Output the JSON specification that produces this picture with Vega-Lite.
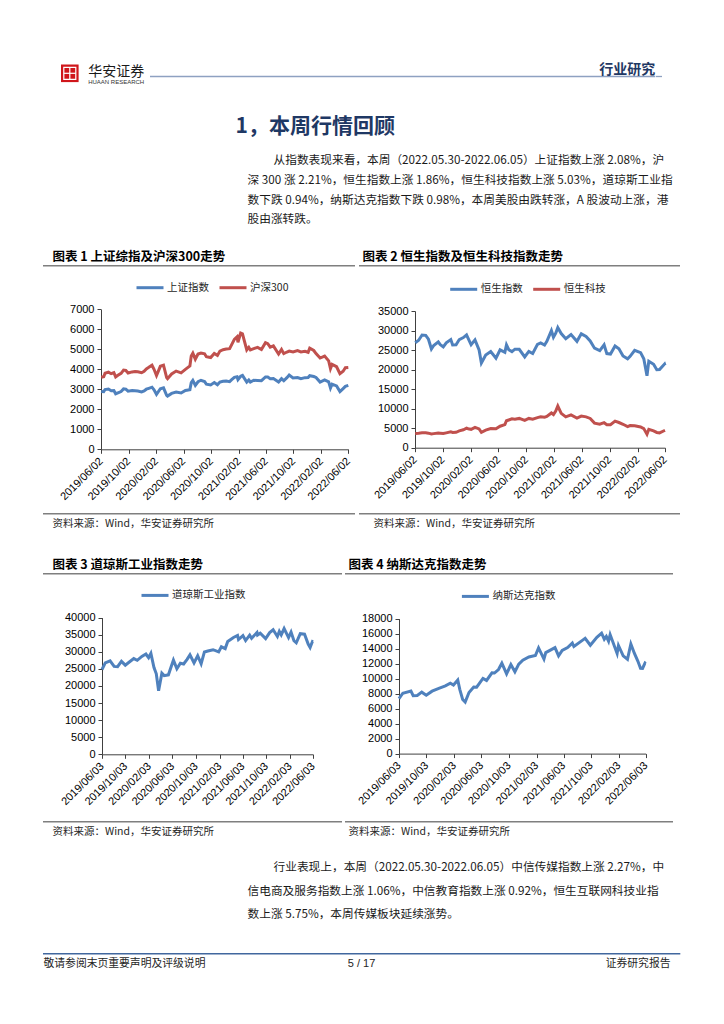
{
"$schema": "https://vega.github.io/schema/vega-lite/v6.json",
"background": "#ffffff",
"padding": 0,
"spacing": 0,
"resolve": {"scale": {"color": "independent"}, "legend": {"color": "independent"}},
"config": {
  "view": {"stroke": null},
  "font": "Noto Sans CJK SC",
  "axis": {"labelFont": "Liberation Sans", "labelFontSize": 11, "labelColor": "#000000", "domainColor": "#404040", "domainWidth": 1, "tickColor": "#404040", "tickSize": 4, "grid": false, "labelPadding": 3},
  "axisX": {"labelAngle": -45, "labelAlign": "right", "labelBaseline": "middle", "labelOverlap": false, "labelFlush": false, "labelBound": false, "labelPadding": 6},
  "legend": {"orient": "none", "direction": "horizontal", "symbolType": "stroke", "symbolSize": 729, "symbolStrokeWidth": 3, "labelFont": "Noto Sans CJK SC", "labelFontSize": 10.5, "labelColor": "#262626", "labelOffset": 2, "columnPadding": 4, "padding": 0}
},
"datasets": {
"c1": [
{"d":"2019/06/03","上证指数":2890,"沪深300":3600},{"d":"2019/06/14","上证指数":2882,"沪深300":3630},{"d":"2019/06/20","上证指数":2987,"沪深300":3800},{"d":"2019/07/05","上证指数":3011,"沪深300":3860},{"d":"2019/07/17","上证指数":2931,"沪深300":3780},{"d":"2019/07/29","上证指数":2941,"沪深300":3830},{"d":"2019/08/06","上证指数":2777,"沪深300":3620},{"d":"2019/08/16","上证指数":2823,"沪深300":3700},{"d":"2019/08/30","上证指数":2886,"沪深300":3800},{"d":"2019/09/10","上证指数":3021,"沪深300":3960},{"d":"2019/09/20","上证指数":3006,"沪深300":3940},{"d":"2019/09/30","上证指数":2905,"沪深300":3815},{"d":"2019/10/18","上证指数":2938,"沪深300":3870},{"d":"2019/10/31","上证指数":2929,"沪深300":3886},{"d":"2019/11/12","上证指数":2914,"沪深300":3880},{"d":"2019/11/29","上证指数":2871,"沪深300":3828},{"d":"2019/12/10","上证指数":2917,"沪深300":3900},{"d":"2019/12/20","上证指数":3005,"沪深300":4018},{"d":"2019/12/31","上证指数":3050,"沪深300":4097},{"d":"2020/01/14","上证指数":3106,"沪深300":4204},{"d":"2020/01/23","上证指数":2976,"沪深300":4003},{"d":"2020/02/03","上证指数":2746,"沪深300":3688},{"d":"2020/02/20","上证指数":3030,"沪深300":4150},{"d":"2020/03/05","上证指数":3071,"沪深300":4206},{"d":"2020/03/19","上证指数":2702,"沪深300":3589},{"d":"2020/03/23","上证指数":2660,"沪深300":3530},{"d":"2020/04/10","上证指数":2796,"沪深300":3766},{"d":"2020/04/30","上证指数":2860,"沪深300":3912},{"d":"2020/05/22","上证指数":2813,"沪深300":3824},{"d":"2020/06/10","上证指数":2943,"沪深300":3996},{"d":"2020/06/30","上证指数":2985,"沪深300":4163},{"d":"2020/07/06","上证指数":3332,"沪深300":4670},{"d":"2020/07/13","上证指数":3443,"沪深300":4808},{"d":"2020/07/24","上证指数":3197,"沪深300":4506},{"d":"2020/08/05","上证指数":3377,"沪深300":4762},{"d":"2020/08/18","上证指数":3451,"沪深300":4816},{"d":"2020/09/03","上证指数":3384,"沪深300":4775},{"d":"2020/09/11","上证指数":3260,"沪深300":4627},{"d":"2020/09/30","上证指数":3218,"沪深300":4587},{"d":"2020/10/16","上证指数":3336,"沪深300":4791},{"d":"2020/10/30","上证指数":3225,"沪深300":4695},{"d":"2020/11/10","上证指数":3360,"沪深300":4910},{"d":"2020/11/24","上证指数":3402,"沪深300":4980},{"d":"2020/12/08","上证指数":3410,"沪深300":5010},{"d":"2020/12/23","上证指数":3383,"沪深300":5033},{"d":"2020/12/31","上证指数":3473,"沪深300":5211},{"d":"2021/01/13","上证指数":3598,"沪深300":5498},{"d":"2021/01/25","上证指数":3625,"沪深300":5625},{"d":"2021/01/29","上证指数":3483,"沪深300":5351},{"d":"2021/02/10","上证指数":3655,"沪深300":5807},{"d":"2021/02/18","上证指数":3696,"沪深300":5768},{"d":"2021/03/09","上证指数":3360,"沪深300":4971},{"d":"2021/03/18","上证指数":3463,"沪深300":5101},{"d":"2021/03/25","上证指数":3363,"沪深300":4970},{"d":"2021/04/09","上证指数":3451,"沪深300":5035},{"d":"2021/04/26","上证指数":3441,"沪深300":5097},{"d":"2021/05/13","上证指数":3429,"沪深300":4990},{"d":"2021/05/31","上证指数":3615,"沪深300":5331},{"d":"2021/06/10","上证指数":3610,"沪深300":5284},{"d":"2021/06/21","上证指数":3529,"沪深300":5108},{"d":"2021/07/05","上证指数":3534,"沪深300":5171},{"d":"2021/07/28","上证指数":3361,"沪深300":4762},{"d":"2021/08/10","上证指数":3529,"沪深300":4990},{"d":"2021/08/20","上证指数":3428,"沪深300":4785},{"d":"2021/09/03","上证指数":3581,"沪深300":4864},{"d":"2021/09/13","上证指数":3715,"沪深300":4909},{"d":"2021/09/30","上证指数":3568,"沪深300":4866},{"d":"2021/10/20","上证指数":3588,"沪深300":4935},{"d":"2021/11/04","上证指数":3526,"沪深300":4869},{"d":"2021/11/22","上证指数":3582,"沪深300":4900},{"d":"2021/12/06","上证指数":3589,"沪深300":4851},{"d":"2021/12/13","上证指数":3681,"沪深300":5055},{"d":"2021/12/31","上证指数":3640,"沪深300":4940},{"d":"2022/01/10","上证指数":3593,"沪深300":4785},{"d":"2022/01/28","上证指数":3361,"沪深300":4564},{"d":"2022/02/17","上证指数":3468,"沪深300":4660},{"d":"2022/03/07","上证指数":3373,"沪深300":4423},{"d":"2022/03/15","上证指数":3063,"沪深300":4034},{"d":"2022/03/22","上证指数":3259,"沪深300":4243},{"d":"2022/04/11","上证指数":3167,"沪深300":4129},{"d":"2022/04/26","上证指数":2886,"沪深300":3785},{"d":"2022/05/10","上证指数":3035,"沪深300":3903},{"d":"2022/05/20","上证指数":3146,"沪深300":4078},{"d":"2022/06/02","上证指数":3195,"沪深300":4091}
],
"c2": [
{"d":"2019/06/03","恒生指数":26894,"恒生科技":3650},{"d":"2019/06/18","恒生指数":27498,"恒生科技":3700},{"d":"2019/07/03","恒生指数":28855,"恒生科技":3820},{"d":"2019/07/19","恒生指数":28765,"恒生科技":3800},{"d":"2019/07/31","恒生指数":27778,"恒生科技":3720},{"d":"2019/08/13","恒生指数":25281,"恒生科技":3500},{"d":"2019/08/23","恒生指数":26179,"恒生科技":3600},{"d":"2019/09/12","恒生指数":27087,"恒生科技":3780},{"d":"2019/09/20","恒生指数":26435,"恒生科技":3720},{"d":"2019/10/04","恒生指数":25821,"恒生科技":3620},{"d":"2019/10/17","恒生指数":26848,"恒生科技":3800},{"d":"2019/11/06","恒生指数":27688,"恒生科技":4050},{"d":"2019/11/14","恒生指数":26323,"恒生科技":3900},{"d":"2019/11/29","恒生指数":26346,"恒生科技":3950},{"d":"2019/12/13","恒生指数":27687,"恒生科技":4300},{"d":"2019/12/31","恒生指数":28190,"恒生科技":4600},{"d":"2020/01/14","恒生指数":28885,"恒生科技":5000},{"d":"2020/01/21","恒生指数":27985,"恒生科技":4850},{"d":"2020/02/03","恒生指数":26356,"恒生科技":4700},{"d":"2020/02/20","恒生指数":27609,"恒生科技":5200},{"d":"2020/03/09","恒生指数":25040,"恒生科技":4800},{"d":"2020/03/19","恒生指数":21709,"恒生科技":3950},{"d":"2020/04/07","恒生指数":23749,"恒生科技":4500},{"d":"2020/04/29","恒生指数":24643,"恒生科技":4900},{"d":"2020/05/22","恒生指数":22930,"恒生科技":4850},{"d":"2020/06/09","恒生指数":25057,"恒生科技":5500},{"d":"2020/06/30","恒生指数":24427,"恒生科技":5900},{"d":"2020/07/07","恒生指数":26339,"恒生科技":6900},{"d":"2020/07/17","恒生指数":25089,"恒生科技":7100},{"d":"2020/07/31","恒生指数":24595,"恒生科技":7400},{"d":"2020/08/13","恒生指数":25231,"恒生科技":7300},{"d":"2020/09/01","恒生指数":25184,"恒生科技":7500},{"d":"2020/09/25","恒生指数":23235,"恒生科技":7000},{"d":"2020/10/13","恒生指数":24649,"恒生科技":7500},{"d":"2020/10/30","恒生指数":24107,"恒生科技":7300},{"d":"2020/11/20","恒生指数":26451,"恒生科技":7700},{"d":"2020/12/04","恒生指数":26835,"恒生科技":7900},{"d":"2020/12/21","恒生指数":26306,"恒生科技":7800},{"d":"2020/12/31","恒生指数":27231,"恒生科技":8000},{"d":"2021/01/20","恒生指数":29962,"恒生科技":8900},{"d":"2021/01/29","恒生指数":28284,"恒生科技":8500},{"d":"2021/02/08","恒生指数":29319,"恒生科技":9400},{"d":"2021/02/17","恒生指数":30746,"恒生科技":10673},{"d":"2021/03/04","恒生指数":29237,"恒生科技":8800},{"d":"2021/03/24","恒生指数":27919,"恒生科技":7900},{"d":"2021/04/16","恒生指数":28970,"恒生科技":8400},{"d":"2021/05/12","恒生指数":27231,"恒生科技":7600},{"d":"2021/05/31","恒生指数":29151,"恒生科技":8100},{"d":"2021/06/21","恒生指数":28489,"恒生科技":7900},{"d":"2021/07/09","恒生指数":27344,"恒生科技":7500},{"d":"2021/07/28","恒生指数":25473,"恒生科技":6300},{"d":"2021/08/20","恒生指数":24849,"恒生科技":6000},{"d":"2021/09/08","恒生指数":26353,"恒生科技":6400},{"d":"2021/09/20","恒生指数":24100,"恒生科技":5900},{"d":"2021/10/06","恒生指数":23967,"恒生科技":5900},{"d":"2021/10/26","恒生指数":26039,"恒生科技":6800},{"d":"2021/11/12","恒生指数":25328,"恒生科技":6450},{"d":"2021/11/30","恒生指数":23475,"恒生科技":6000},{"d":"2021/12/20","恒生指数":22744,"恒生科技":5400},{"d":"2021/12/31","恒生指数":23398,"恒生科技":5670},{"d":"2022/01/20","恒生指数":24952,"恒生科技":5600},{"d":"2022/02/15","恒生指数":24356,"恒生科技":5300},{"d":"2022/03/01","恒生指数":22761,"恒生科技":4900},{"d":"2022/03/15","恒生指数":18415,"恒生科技":3464},{"d":"2022/03/23","恒生指数":22154,"恒生科技":4700},{"d":"2022/04/13","恒生指数":21374,"恒生科技":4300},{"d":"2022/04/27","恒生指数":19946,"恒生科技":3900},{"d":"2022/05/09","恒生指数":20002,"恒生科技":3800},{"d":"2022/05/31","恒生指数":21415,"恒生科技":4400},{"d":"2022/06/02","恒生指数":21082,"恒生科技":4450}
],
"c3": [
{"d":"2019/06/03","道琼斯工业指数":24820},{"d":"2019/06/20","道琼斯工业指数":26753},{"d":"2019/07/15","道琼斯工业指数":27359},{"d":"2019/08/05","道琼斯工业指数":25718},{"d":"2019/08/23","道琼斯工业指数":25629},{"d":"2019/09/12","道琼斯工业指数":27182},{"d":"2019/10/02","道琼斯工业指数":26078},{"d":"2019/10/18","道琼斯工业指数":26770},{"d":"2019/11/15","道琼斯工业指数":28005},{"d":"2019/12/03","道琼斯工业指数":27503},{"d":"2019/12/27","道琼斯工业指数":28645},{"d":"2020/01/17","道琼斯工业指数":29348},{"d":"2020/01/31","道琼斯工业指数":28256},{"d":"2020/02/12","道琼斯工业指数":29551},{"d":"2020/02/28","道琼斯工业指数":25409},{"d":"2020/03/11","道琼斯工业指数":23553},{"d":"2020/03/23","道琼斯工业指数":18592},{"d":"2020/04/09","道琼斯工业指数":23719},{"d":"2020/04/21","道琼斯工业指数":23019},{"d":"2020/05/13","道琼斯工业指数":23248},{"d":"2020/06/08","道琼斯工业指数":27572},{"d":"2020/06/26","道琼斯工业指数":25016},{"d":"2020/07/14","道琼斯工业指数":26643},{"d":"2020/07/31","道琼斯工业指数":26428},{"d":"2020/08/18","道琼斯工业指数":27778},{"d":"2020/09/02","道琼斯工业指数":29100},{"d":"2020/09/23","道琼斯工业指数":26763},{"d":"2020/10/12","道琼斯工业指数":28837},{"d":"2020/10/30","道琼斯工业指数":26502},{"d":"2020/11/16","道琼斯工业指数":29950},{"d":"2020/12/04","道琼斯工业指数":30218},{"d":"2020/12/31","道琼斯工业指数":30606},{"d":"2021/01/29","道琼斯工业指数":29983},{"d":"2021/02/12","道琼斯工业指数":31458},{"d":"2021/03/04","道琼斯工业指数":30924},{"d":"2021/03/17","道琼斯工业指数":33015},{"d":"2021/04/16","道琼斯工业指数":34200},{"d":"2021/05/07","道琼斯工业指数":34778},{"d":"2021/05/12","道琼斯工业指数":33587},{"d":"2021/06/04","道琼斯工业指数":34756},{"d":"2021/06/18","道琼斯工业指数":33290},{"d":"2021/07/09","道琼斯工业指数":34870},{"d":"2021/07/19","道琼斯工业指数":33962},{"d":"2021/08/16","道琼斯工业指数":35625},{"d":"2021/08/19","道琼斯工业指数":34894},{"d":"2021/09/02","道琼斯工业指数":35444},{"d":"2021/09/30","道琼斯工业指数":33844},{"d":"2021/10/21","道琼斯工业指数":35603},{"d":"2021/11/08","道琼斯工业指数":36432},{"d":"2021/11/30","道琼斯工业指数":34484},{"d":"2021/12/10","道琼斯工业指数":35971},{"d":"2021/12/20","道琼斯工业指数":34932},{"d":"2022/01/04","道琼斯工业指数":36799},{"d":"2022/01/27","道琼斯工业指数":34160},{"d":"2022/02/09","道琼斯工业指数":35768},{"d":"2022/02/24","道琼斯工业指数":33224},{"d":"2022/03/08","道琼斯工业指数":32632},{"d":"2022/03/29","道琼斯工业指数":35294},{"d":"2022/04/20","道琼斯工业指数":35160},{"d":"2022/05/09","道琼斯工业指数":32246},{"d":"2022/05/19","道琼斯工业指数":31253},{"d":"2022/05/31","道琼斯工业指数":32990},{"d":"2022/06/03","道琼斯工业指数":32900}
],
"c4": [
{"d":"2019/06/03","纳斯达克指数":7333},{"d":"2019/06/20","纳斯达克指数":8051},{"d":"2019/07/26","纳斯达克指数":8330},{"d":"2019/08/05","纳斯达克指数":7726},{"d":"2019/08/23","纳斯达克指数":7751},{"d":"2019/09/12","纳斯达克指数":8195},{"d":"2019/10/02","纳斯达克指数":7785},{"d":"2019/10/28","纳斯达克指数":8325},{"d":"2019/11/27","纳斯达克指数":8705},{"d":"2019/12/26","纳斯达克指数":9022},{"d":"2020/01/17","纳斯达克指数":9389},{"d":"2020/01/31","纳斯达克指数":9151},{"d":"2020/02/19","纳斯达克指数":9817},{"d":"2020/02/28","纳斯达克指数":8567},{"d":"2020/03/12","纳斯达克指数":7201},{"d":"2020/03/23","纳斯达克指数":6860},{"d":"2020/04/09","纳斯达克指数":8153},{"d":"2020/04/30","纳斯达克指数":8890},{"d":"2020/05/13","纳斯达克指数":8863},{"d":"2020/06/10","纳斯达克指数":10020},{"d":"2020/06/26","纳斯达克指数":9757},{"d":"2020/07/20","纳斯达克指数":10767},{"d":"2020/07/31","纳斯达克指数":10745},{"d":"2020/08/18","纳斯达克指数":11210},{"d":"2020/09/02","纳斯达克指数":12056},{"d":"2020/09/23","纳斯达克指数":10633},{"d":"2020/10/12","纳斯达克指数":11876},{"d":"2020/10/30","纳斯达克指数":10912},{"d":"2020/11/16","纳斯达克指数":11925},{"d":"2020/12/04","纳斯达克指数":12464},{"d":"2020/12/31","纳斯达克指数":12888},{"d":"2021/01/29","纳斯达克指数":13071},{"d":"2021/02/12","纳斯达克指数":14095},{"d":"2021/03/08","纳斯达克指数":12609},{"d":"2021/03/16","纳斯达克指数":13472},{"d":"2021/04/26","纳斯达克指数":14138},{"d":"2021/05/12","纳斯达克指数":13032},{"d":"2021/05/28","纳斯达克指数":13749},{"d":"2021/06/21","纳斯达克指数":14141},{"d":"2021/07/12","纳斯达克指数":14733},{"d":"2021/07/19","纳斯达克指数":14275},{"d":"2021/08/27","纳斯达克指数":15129},{"d":"2021/09/07","纳斯达克指数":15374},{"d":"2021/09/30","纳斯达克指数":14448},{"d":"2021/10/29","纳斯达克指数":15498},{"d":"2021/11/19","纳斯达克指数":16057},{"d":"2021/12/01","纳斯达克指数":15254},{"d":"2021/12/10","纳斯达克指数":15630},{"d":"2021/12/20","纳斯达克指数":14980},{"d":"2021/12/27","纳斯达克指数":15871},{"d":"2022/01/27","纳斯达克指数":13352},{"d":"2022/02/02","纳斯达克指数":14417},{"d":"2022/02/23","纳斯达克指数":13037},{"d":"2022/03/14","纳斯达克指数":12581},{"d":"2022/03/29","纳斯达克指数":14620},{"d":"2022/04/14","纳斯达克指数":13351},{"d":"2022/04/29","纳斯达克指数":12335},{"d":"2022/05/11","纳斯达克指数":11364},{"d":"2022/05/20","纳斯达克指数":11355},{"d":"2022/05/31","纳斯达克指数":12081},{"d":"2022/06/03","纳斯达克指数":12013}
]
},
"vconcat": [
{"width": 724, "height": 56, "data": {"values": []}, "mark": "rect"},
{"hconcat": [
  {"width": 60.7, "height": 1, "data": {"values": []}, "mark": "rect"},
  {"width": 17.6, "height": 34.6, "data": {"values": [{}]}, "layer": [
    {"mark": {"type": "point", "shape": "square", "size": 310, "filled": true, "color": "#D0161B", "strokeWidth": 0, "opacity": 1}},
    {"mark": {"type": "point", "shape": "square", "size": 144, "filled": false, "color": "#ffffff", "strokeWidth": 1.2, "opacity": 1}},
    {"mark": {"type": "tick", "orient": "horizontal", "size": 12, "thickness": 1.2, "color": "#ffffff", "opacity": 1}},
    {"mark": {"type": "tick", "orient": "vertical", "size": 12, "thickness": 1.2, "color": "#ffffff", "opacity": 1}}
  ]},
  {"width": 8.4, "height": 1, "data": {"values": []}, "mark": "rect"},
  {"width": 56.3, "height": 46, "data": {"values": [{}]}, "layer": [
    {"mark": {"type": "text", "text": "华安证券", "align": "center", "baseline": "bottom", "fontSize": 14, "color": "#1a1a1a"}},
    {"mark": {"type": "text", "text": "HUAAN RESEARCH", "align": "center", "baseline": "top", "fontSize": 6, "font": "Liberation Sans", "color": "#333333"}}
  ]},
  {"width": 5, "height": 1, "data": {"values": []}, "mark": "rect"},
  {"width": 449, "height": 41, "data": {"values": [{}]}, "mark": {"type": "tick", "orient": "horizontal", "size": 449, "thickness": 1.3, "color": "#8EA1C1", "opacity": 1}},
  {"width": 56.3, "height": 41, "data": {"values": [{}]}, "layer": [
    {"mark": {"type": "tick", "orient": "horizontal", "size": 56.3, "thickness": 1.3, "color": "#8EA1C1", "opacity": 1}},
    {"mark": {"type": "text", "text": "行业研究", "align": "center", "baseline": "bottom", "fontSize": 14, "fontWeight": "bold", "color": "#1F3864"}}
  ]},
  {"width": 6, "height": 41, "data": {"values": [{}]}, "mark": {"type": "tick", "orient": "horizontal", "size": 6, "thickness": 1.3, "color": "#8EA1C1", "opacity": 1}}
], "spacing": 0, "bounds": "flush"},
{"hconcat": [
  {"width": 234.5, "height": 1, "data": {"values": []}, "mark": "rect"},
  {"width": 1, "height": 50, "data": {"values": [{}]}, "mark": {"type": "text", "text": "1，本周行情回顾", "align": "left", "baseline": "middle", "fontSize": 21, "fontWeight": "bold", "color": "#1F3864"}}
], "spacing": 0, "bounds": "flush"},
{"hconcat": [
  {"width": 246.5, "height": 95.3, "data": {"values": []}, "mark": "rect"},
  {"width": 1, "height": 56, "data": {"values": [{}]}, "mark": {"type": "text", "text": ["深 300 涨 2.21%，恒生指数上涨 1.86%，恒生科技指数上涨 5.03%，道琼斯工业指", "数下跌 0.94%，纳斯达克指数下跌 0.98%，本周美股由跌转涨，A 股波动上涨，港", "股由涨转跌。"], "lineHeight": 19.7, "align": "left", "baseline": "middle", "fontSize": 11.7, "color": "#1a1a1a"}},
  {"width": 25, "height": 1, "data": {"values": []}, "mark": "rect"},
  {"width": 1, "height": 16.6, "data": {"values": [{}]}, "mark": {"type": "text", "text": "从指数表现来看，本周（2022.05.30-2022.06.05）上证指数上涨 2.08%，沪", "align": "left", "baseline": "middle", "fontSize": 11.7, "color": "#1a1a1a"}}
], "spacing": 0, "bounds": "flush"},
{"width": 1, "height": 1.2, "data": {"values": []}, "mark": "rect"},
{"hconcat": [
  {"width": 51.2, "height": 1, "data": {"values": []}, "mark": "rect"},
  {"width": 1, "height": 13, "data": {"values": [{}]}, "mark": {"type": "text", "text": "图表 1 上证综指及沪深300走势", "align": "left", "baseline": "middle", "fontSize": 12.5, "fontWeight": "bold", "color": "#000000"}},
  {"width": 309, "height": 1, "data": {"values": []}, "mark": "rect"},
  {"width": 1, "height": 13, "data": {"values": [{}]}, "mark": {"type": "text", "text": "图表 2 恒生指数及恒生科技指数走势", "align": "left", "baseline": "middle", "fontSize": 12.5, "fontWeight": "bold", "color": "#000000"}}
], "spacing": 0, "bounds": "flush"},
{"width": 1, "height": 1.6, "data": {"values": []}, "mark": "rect"},
{"hconcat": [
  {"width": 43, "height": 1.5, "data": {"values": []}, "mark": "rect"},
  {"width": 312, "height": 1.5, "data": {"values": [{}]}, "mark": {"type": "rect", "color": "#7F7F7F"}},
  {"width": 4, "height": 1.5, "data": {"values": []}, "mark": "rect"},
  {"width": 321, "height": 1.5, "data": {"values": [{}]}, "mark": {"type": "rect", "color": "#7F7F7F"}}
], "spacing": 0, "bounds": "flush"},
{"width": 1, "height": 1.2, "data": {"values": []}, "mark": "rect"},
{"hconcat": [
  {"width": 101, "height": 243.95, "data": {"values": []}, "mark": "rect"},
  {"width": 247.3, "height": 180.3, "data": {"name": "c1"},
   "transform": [{"fold": ["上证指数", "沪深300"], "as": ["s", "v"]}],
   "mark": {"type": "line", "strokeWidth": 3},
   "encoding": {
     "x": {"field": "d", "type": "temporal", "scale": {"domain": [{"year": 2019, "month": 6, "date": 2}, {"year": 2022, "month": 6, "date": 2}], "nice": false},
           "axis": {"title": null, "format": "%Y/%m/%d", "values": [{"year":2019,"month":6,"date":2},{"year":2019,"month":10,"date":2},{"year":2020,"month":2,"date":2},{"year":2020,"month":6,"date":2},{"year":2020,"month":10,"date":2},{"year":2021,"month":2,"date":2},{"year":2021,"month":6,"date":2},{"year":2021,"month":10,"date":2},{"year":2022,"month":2,"date":2},{"year":2022,"month":6,"date":2}]}},
     "y": {"field": "v", "type": "quantitative", "scale": {"domain": [0, 7000], "range": [180.3, 40.3], "nice": false}, "axis": {"title": null, "format": "d", "values": [0, 1000, 2000, 3000, 4000, 5000, 6000, 7000]}},
     "color": {"field": "s", "type": "nominal", "scale": {"domain": ["上证指数", "沪深300"], "range": ["#4F81BD", "#C0504D"]}, "legend": {"title": null, "orient": "none", "legendX": 34, "legendY": 3.7}}
   }},
  {"width": 66, "height": 1, "data": {"values": []}, "mark": "rect"},
  {"width": 250, "height": 178.7, "data": {"name": "c2"},
   "transform": [{"fold": ["恒生指数", "恒生科技"], "as": ["s", "v"]}],
   "mark": {"type": "line", "strokeWidth": 3},
   "encoding": {
     "x": {"field": "d", "type": "temporal", "scale": {"domain": [{"year": 2019, "month": 6, "date": 2}, {"year": 2022, "month": 6, "date": 2}], "nice": false},
           "axis": {"title": null, "format": "%Y/%m/%d", "values": [{"year":2019,"month":6,"date":2},{"year":2019,"month":10,"date":2},{"year":2020,"month":2,"date":2},{"year":2020,"month":6,"date":2},{"year":2020,"month":10,"date":2},{"year":2021,"month":2,"date":2},{"year":2021,"month":6,"date":2},{"year":2021,"month":10,"date":2},{"year":2022,"month":2,"date":2},{"year":2022,"month":6,"date":2}]}},
     "y": {"field": "v", "type": "quantitative", "scale": {"domain": [0, 35000], "range": [178.7, 42], "nice": false}, "axis": {"title": null, "format": "d", "values": [0, 5000, 10000, 15000, 20000, 25000, 30000, 35000]}},
     "color": {"field": "s", "type": "nominal", "scale": {"domain": ["恒生指数", "恒生科技"], "range": ["#4F81BD", "#C0504D"]}, "legend": {"title": null, "orient": "none", "legendX": 33.7, "legendY": 5.3}}
   }}
], "spacing": 0, "bounds": "flush", "resolve": {"scale": {"color": "independent"}, "legend": {"color": "independent"}}},
{"hconcat": [
  {"width": 43, "height": 1.5, "data": {"values": []}, "mark": "rect"},
  {"width": 312, "height": 1.5, "data": {"values": [{}]}, "mark": {"type": "rect", "color": "#7F7F7F"}},
  {"width": 4, "height": 1.5, "data": {"values": []}, "mark": "rect"},
  {"width": 321, "height": 1.5, "data": {"values": [{}]}, "mark": {"type": "rect", "color": "#7F7F7F"}}
], "spacing": 0, "bounds": "flush"},
{"hconcat": [
  {"width": 51.2, "height": 1, "data": {"values": []}, "mark": "rect"},
  {"width": 1, "height": 17.1, "data": {"values": [{}]}, "mark": {"type": "text", "text": "资料来源：Wind，华安证券研究所", "align": "left", "baseline": "middle", "fontSize": 10.5, "color": "#262626"}},
  {"width": 319.3, "height": 1, "data": {"values": []}, "mark": "rect"},
  {"width": 1, "height": 17.1, "data": {"values": [{}]}, "mark": {"type": "text", "text": "资料来源：Wind，华安证券研究所", "align": "left", "baseline": "middle", "fontSize": 10.5, "color": "#262626"}}
], "spacing": 0, "bounds": "flush"},
{"width": 1, "height": 25.85, "data": {"values": []}, "mark": "rect"},
{"hconcat": [
  {"width": 51.2, "height": 1, "data": {"values": []}, "mark": "rect"},
  {"width": 1, "height": 12.6, "data": {"values": [{}]}, "mark": {"type": "text", "text": "图表 3 道琼斯工业指数走势", "align": "left", "baseline": "middle", "fontSize": 12.5, "fontWeight": "bold", "color": "#000000"}},
  {"width": 294.6, "height": 1, "data": {"values": []}, "mark": "rect"},
  {"width": 1, "height": 12.6, "data": {"values": [{}]}, "mark": {"type": "text", "text": "图表 4 纳斯达克指数走势", "align": "left", "baseline": "middle", "fontSize": 12.5, "fontWeight": "bold", "color": "#000000"}}
], "spacing": 0, "bounds": "flush"},
{"width": 1, "height": 0.8, "data": {"values": []}, "mark": "rect"},
{"hconcat": [
  {"width": 43, "height": 1.5, "data": {"values": []}, "mark": "rect"},
  {"width": 299, "height": 1.5, "data": {"values": [{}]}, "mark": {"type": "rect", "color": "#7F7F7F"}},
  {"width": 3, "height": 1.5, "data": {"values": []}, "mark": "rect"},
  {"width": 328, "height": 1.5, "data": {"values": [{}]}, "mark": {"type": "rect", "color": "#7F7F7F"}}
], "spacing": 0, "bounds": "flush"},
{"width": 1, "height": 1.7, "data": {"values": []}, "mark": "rect"},
{"hconcat": [
  {"width": 101.7, "height": 243.15, "data": {"values": []}, "mark": "rect"},
  {"width": 211, "height": 177.3, "data": {"name": "c3"},
   "transform": [{"fold": ["道琼斯工业指数"], "as": ["s", "v"]}],
   "mark": {"type": "line", "strokeWidth": 3},
   "encoding": {
     "x": {"field": "d", "type": "temporal", "scale": {"domain": [{"year": 2019, "month": 6, "date": 3}, {"year": 2022, "month": 6, "date": 3}], "nice": false},
           "axis": {"title": null, "format": "%Y/%m/%d", "values": [{"year":2019,"month":6,"date":3},{"year":2019,"month":10,"date":3},{"year":2020,"month":2,"date":3},{"year":2020,"month":6,"date":3},{"year":2020,"month":10,"date":3},{"year":2021,"month":2,"date":3},{"year":2021,"month":6,"date":3},{"year":2021,"month":10,"date":3},{"year":2022,"month":2,"date":3},{"year":2022,"month":6,"date":3}]}},
     "y": {"field": "v", "type": "quantitative", "scale": {"domain": [0, 40000], "range": [177.3, 40.6], "nice": false}, "axis": {"title": null, "format": "d", "values": [0, 5000, 10000, 15000, 20000, 25000, 30000, 35000, 40000]}},
     "color": {"field": "s", "type": "nominal", "scale": {"domain": ["道琼斯工业指数"], "range": ["#4F81BD"]}, "legend": {"title": null, "orient": "none", "legendX": 38, "legendY": 3.4}}
   }},
  {"width": 85.6, "height": 1, "data": {"values": []}, "mark": "rect"},
  {"width": 246.7, "height": 176.6, "data": {"name": "c4"},
   "transform": [{"fold": ["纳斯达克指数"], "as": ["s", "v"]}],
   "mark": {"type": "line", "strokeWidth": 3},
   "encoding": {
     "x": {"field": "d", "type": "temporal", "scale": {"domain": [{"year": 2019, "month": 6, "date": 3}, {"year": 2022, "month": 6, "date": 3}], "nice": false},
           "axis": {"title": null, "format": "%Y/%m/%d", "values": [{"year":2019,"month":6,"date":3},{"year":2019,"month":10,"date":3},{"year":2020,"month":2,"date":3},{"year":2020,"month":6,"date":3},{"year":2020,"month":10,"date":3},{"year":2021,"month":2,"date":3},{"year":2021,"month":6,"date":3},{"year":2021,"month":10,"date":3},{"year":2022,"month":2,"date":3},{"year":2022,"month":6,"date":3}]}},
     "y": {"field": "v", "type": "quantitative", "scale": {"domain": [0, 18000], "range": [176.6, 41.6], "nice": false}, "axis": {"title": null, "format": "d", "values": [0, 2000, 4000, 6000, 8000, 10000, 12000, 14000, 16000, 18000]}},
     "color": {"field": "s", "type": "nominal", "scale": {"domain": ["纳斯达克指数"], "range": ["#4F81BD"]}, "legend": {"title": null, "orient": "none", "legendX": 61.4, "legendY": 4.4}}
   }}
], "spacing": 0, "bounds": "flush", "resolve": {"scale": {"color": "independent"}, "legend": {"color": "independent"}}},
{"hconcat": [
  {"width": 43, "height": 1.5, "data": {"values": []}, "mark": "rect"},
  {"width": 299, "height": 1.5, "data": {"values": [{}]}, "mark": {"type": "rect", "color": "#7F7F7F"}},
  {"width": 3, "height": 1.5, "data": {"values": []}, "mark": "rect"},
  {"width": 328, "height": 1.5, "data": {"values": [{}]}, "mark": {"type": "rect", "color": "#7F7F7F"}}
], "spacing": 0, "bounds": "flush"},
{"hconcat": [
  {"width": 51.2, "height": 1, "data": {"values": []}, "mark": "rect"},
  {"width": 1, "height": 18.5, "data": {"values": [{}]}, "mark": {"type": "text", "text": "资料来源：Wind，华安证券研究所", "align": "left", "baseline": "middle", "fontSize": 10.5, "color": "#262626"}},
  {"width": 294.6, "height": 1, "data": {"values": []}, "mark": "rect"},
  {"width": 1, "height": 18.5, "data": {"values": [{}]}, "mark": {"type": "text", "text": "资料来源：Wind，华安证券研究所", "align": "left", "baseline": "middle", "fontSize": 10.5, "color": "#262626"}}
], "spacing": 0, "bounds": "flush"},
{"width": 1, "height": 15.35, "data": {"values": []}, "mark": "rect"},
{"hconcat": [
  {"width": 246.5, "height": 67, "data": {"values": []}, "mark": "rect"},
  {"width": 1, "height": 65, "data": {"values": [{}]}, "mark": {"type": "text", "text": ["信电商及服务指数上涨 1.06%，中信教育指数上涨 0.92%，恒生互联网科技业指", "数上涨 5.75%，本周传媒板块延续涨势。"], "lineHeight": 23.5, "align": "left", "baseline": "middle", "fontSize": 11.7, "color": "#1a1a1a"}},
  {"width": 25, "height": 1, "data": {"values": []}, "mark": "rect"},
  {"width": 1, "height": 18, "data": {"values": [{}]}, "mark": {"type": "text", "text": "行业表现上，本周（2022.05.30-2022.06.05）中信传媒指数上涨 2.27%，中", "align": "left", "baseline": "middle", "fontSize": 11.7, "color": "#1a1a1a"}}
], "spacing": 0, "bounds": "flush"},
{"width": 1, "height": 27.25, "data": {"values": []}, "mark": "rect"},
{"hconcat": [
  {"width": 42.7, "height": 1.5, "data": {"values": []}, "mark": "rect"},
  {"width": 637.3, "height": 1.5, "data": {"values": [{}]}, "mark": {"type": "rect", "color": "#41679E"}}
], "spacing": 0, "bounds": "flush"},
{"hconcat": [
  {"width": 42.2, "height": 1, "data": {"values": []}, "mark": "rect"},
  {"width": 1, "height": 18.5, "data": {"values": [{}]}, "mark": {"type": "text", "text": "敬请参阅末页重要声明及评级说明", "align": "left", "baseline": "middle", "fontSize": 10.8, "color": "#262626"}},
  {"width": 316.3, "height": 1, "data": {"values": []}, "mark": "rect"},
  {"width": 1, "height": 18.5, "data": {"values": [{}]}, "mark": {"type": "text", "text": "5 / 17", "align": "center", "baseline": "middle", "fontSize": 11, "font": "Liberation Sans", "color": "#262626"}},
  {"width": 308, "height": 1, "data": {"values": []}, "mark": "rect"},
  {"width": 1, "height": 18.5, "data": {"values": [{}]}, "mark": {"type": "text", "text": "证券研究报告", "align": "right", "baseline": "middle", "fontSize": 10.8, "color": "#262626"}}
], "spacing": 0, "bounds": "flush"},
{"width": 724, "height": 51.75, "data": {"values": []}, "mark": "rect"}
]
}
